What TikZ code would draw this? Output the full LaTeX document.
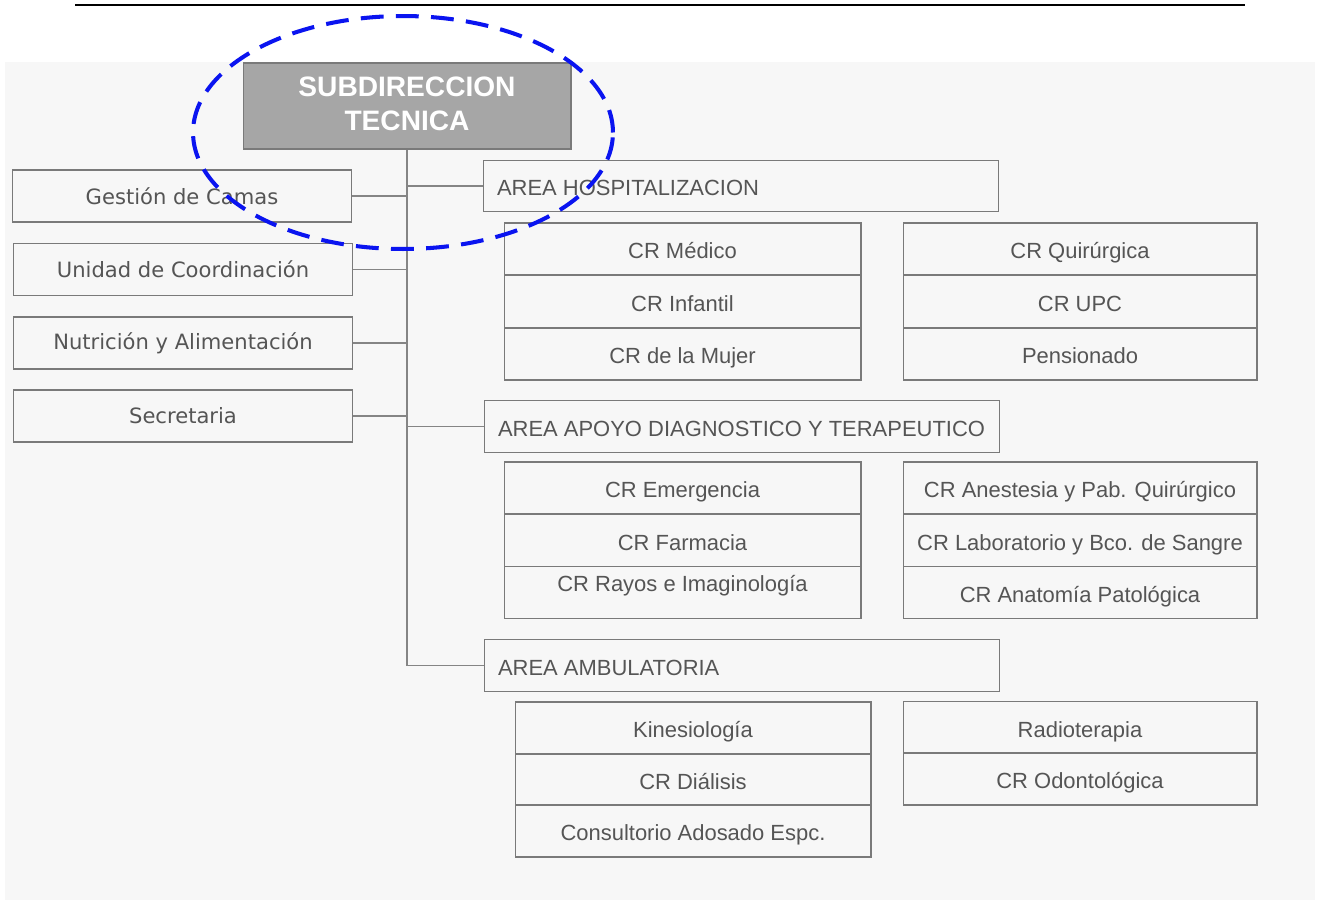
\documentclass[tikz,border=0pt]{standalone}
\usepackage{fontspec}
\setmainfont{Liberation Sans}
\newfontfamily\leftfont{DejaVu Sans}
\usetikzlibrary{shapes.geometric}
\definecolor{txtgray}{HTML}{555555}
\definecolor{boxgray}{HTML}{7A7A7A}
\definecolor{linegray}{HTML}{858585}
\definecolor{subfill}{HTML}{A6A6A6}
\definecolor{bgpaper}{HTML}{F7F7F7}
\definecolor{markblue}{HTML}{0A14F0}
\newcommand{\arealabel}[1]{\makebox[9.76cm][l]{#1}}
\tikzset{
  box/.style={draw=boxgray, line width=0.6pt, text=txtgray, inner sep=0pt,
    font=\fontsize{12.5pt}{15pt}\selectfont},
  leftbox/.style={box, minimum width=6.8cm, minimum height=1.04cm,
    font=\leftfont\fontsize{12pt}{14pt}\selectfont},
  rowbox/.style={box, minimum height=1.04cm, text height=13.8pt, text depth=2.9pt},
  areabox/.style={box, minimum width=10.32cm, minimum height=1.03cm,
    inner xsep=0.28cm, text height=13.8pt, text depth=2.9pt},
  conn/.style={draw=linegray, line width=0.6pt},
  titlebox/.style={draw=boxgray, fill=subfill, line width=0.6pt, text=white,
    minimum width=6.56cm, minimum height=1.72cm, align=center, inner sep=0pt,
    font=\bfseries\fontsize{16pt}{19.3pt}\selectfont},
  highlight/.style={ellipse, draw=markblue, line width=2.3pt,
    dash pattern=on 13pt off 7pt, minimum width=8.4cm, minimum height=4.66cm, inner sep=0pt}
}
\begin{document}
\begin{tikzpicture}[x=0.02cm,y=-0.02cm]
\useasboundingbox (0,0) rectangle (1318,903);
\fill[white] (0,0) rectangle (1318,903);
\fill[bgpaper] (5,62) rectangle (1315,900);
\draw[black, line width=1.4pt] (75,5) -- (1245,5);

% title
\node[titlebox] (sub) at (407,106) {SUBDIRECCION\\TECNICA\rule[-2.2pt]{0pt}{2.2pt}};

% left staff boxes
\node[leftbox] (gc) at (182,196) {Gestión de Camas};
\node[leftbox] (uc) at (183,269.5) {Unidad de Coordinación};
\node[leftbox] (na) at (183,343) {Nutrición y Alimentación};
\node[leftbox] (se) at (183,416) {Secretaria};

% areas
\node[areabox] (hosp) at (741,186) {\arealabel{AREA HOSPITALIZACION}};
\node[areabox] (apoyo) at (742,426.5) {\arealabel{AREA APOYO DIAGNOSTICO Y TERAPEUTICO}};
\node[areabox] (amb) at (742,665.5) {\arealabel{AREA AMBULATORIA}};

% hospitalizacion groups
\node[rowbox, minimum width=7.14cm] (h1) at (682.5,249) {CR Médico};
\node[rowbox, minimum width=7.14cm] (h2) at (682.5,301.5) {CR Infantil};
\node[rowbox, minimum width=7.14cm] (h3) at (682.5,354) {CR de la Mujer};
\node[rowbox, minimum width=7.08cm] (h4) at (1080,249) {CR Quirúrgica};
\node[rowbox, minimum width=7.08cm] (h5) at (1080,301.5) {CR UPC};
\node[rowbox, minimum width=7.08cm] (h6) at (1080,354) {Pensionado};

% apoyo groups
\node[rowbox, minimum width=7.14cm] (a1) at (682.5,488) {CR Emergencia};
\node[rowbox, minimum width=7.14cm] (a2) at (682.5,540.5) {CR Farmacia};
\node[rowbox, minimum width=7.14cm, text depth=15.4pt] (a3) at (682.5,592.5) {CR Rayos e Imaginología};
\node[rowbox, minimum width=7.08cm] (a4) at (1080,488) {CR Anestesia y Pab. Quirúrgico};
\node[rowbox, minimum width=7.08cm] (a5) at (1080,540.5) {CR Laboratorio y Bco. de Sangre};
\node[rowbox, minimum width=7.08cm] (a6) at (1080,592.5) {CR Anatomía Patológica};

% ambulatoria groups
\node[rowbox, minimum width=7.12cm] (b1) at (693,728) {Kinesiología};
\node[rowbox, minimum width=7.12cm] (b2) at (693,779.5) {CR Diálisis};
\node[rowbox, minimum width=7.12cm] (b3) at (693,831) {Consultorio Adosado Espc.};
\node[rowbox, minimum width=7.08cm] (b4) at (1080,727.5) {Radioterapia};
\node[rowbox, minimum width=7.08cm] (b5) at (1080,779) {CR Odontológica};

% connectors
\draw[conn] (sub.south) |- (amb.west);
\draw[conn] (hosp.west) -- (hosp.west -| sub.south);
\draw[conn] (apoyo.west) -- (apoyo.west -| sub.south);
\draw[conn] (gc.east) -- (gc.east -| sub.south);
\draw[conn] (uc.east) -- (uc.east -| sub.south);
\draw[conn] (na.east) -- (na.east -| sub.south);
\draw[conn] (se.east) -- (se.east -| sub.south);

% highlight ellipse
\node[highlight] (mark) at (403,132.5) {};
\end{tikzpicture}
\end{document}
